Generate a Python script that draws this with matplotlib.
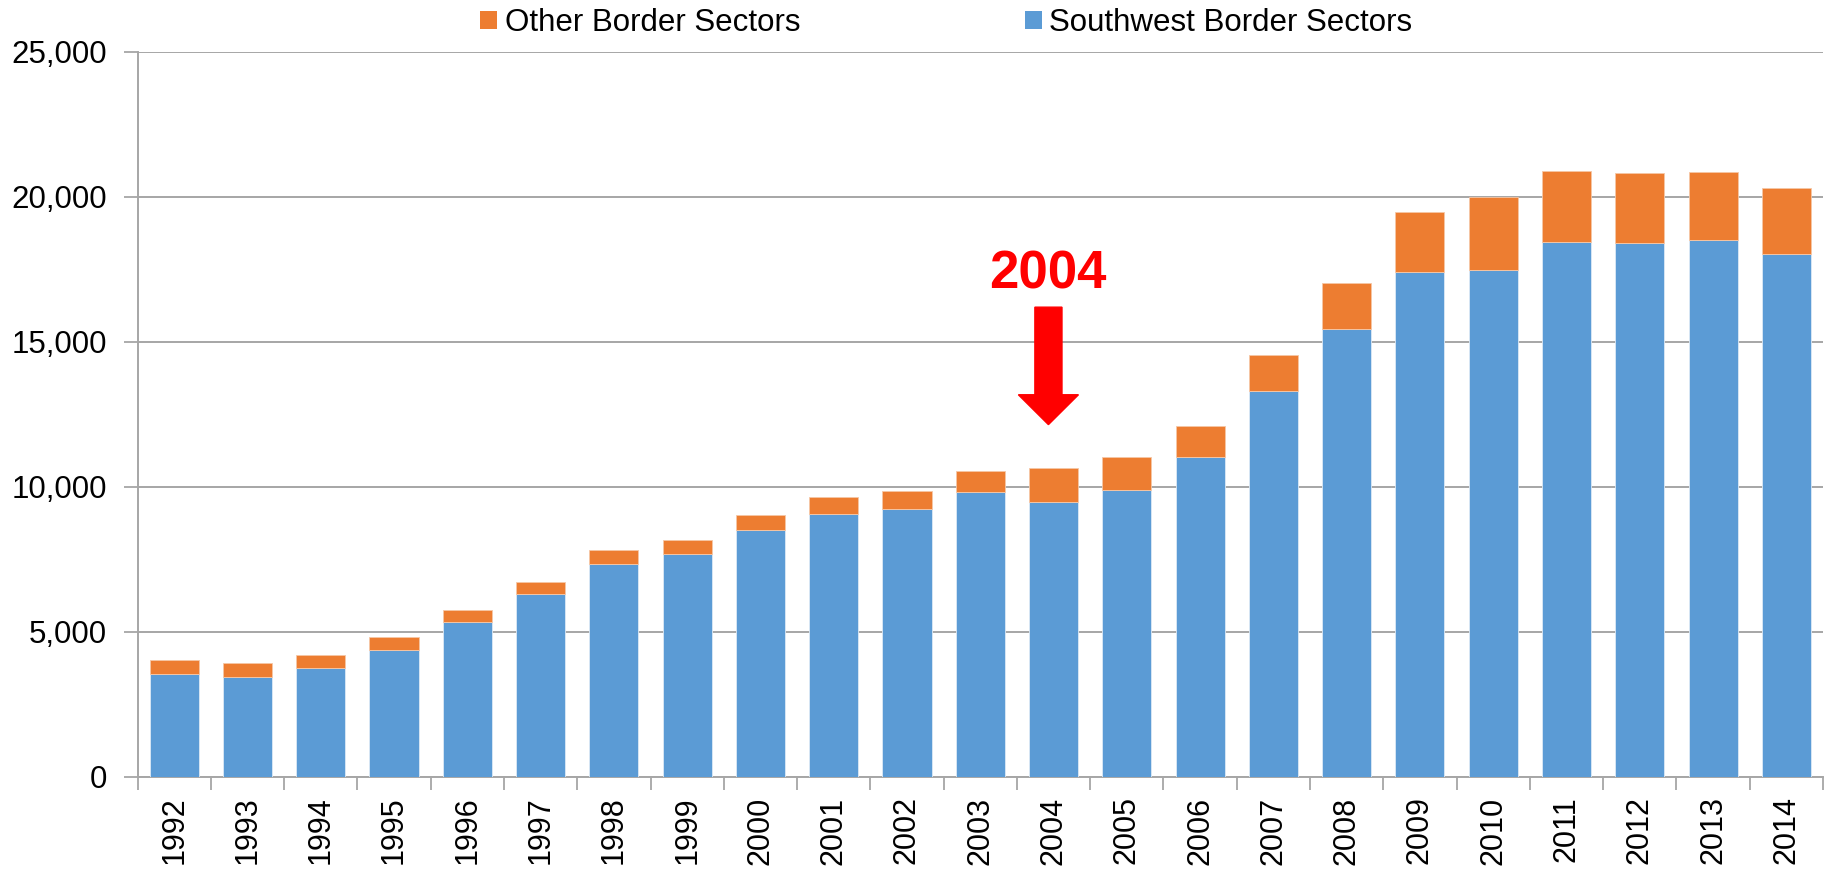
import matplotlib
matplotlib.use("Agg")
import matplotlib.pyplot as plt
from matplotlib.patches import Patch, FancyArrow
import numpy as np

years = [str(y) for y in range(1992, 2015)]
southwest = [3556, 3452, 3749, 4381, 5330, 6307, 7339, 7693, 8524, 9085, 9242,
             9838, 9494, 9896, 11032, 13303, 15436, 17398, 17477, 18440, 18406,
             18499, 18017]
total = [4048, 3921, 4209, 4828, 5767, 6720, 7820, 8180, 9044, 9646, 9872,
         10550, 10640, 11042, 12098, 14552, 17019, 19497, 19989, 20894, 20825,
         20860, 20322]
other = [t - s for t, s in zip(total, southwest)]
yticks = [0, 5000, 10000, 15000, 20000, 25000]
highlight_year = "2004"

BLUE = "#5B9BD5"
ORANGE = "#ED7D31"
GRID = "#A6A6A6"

plt.rcParams['font.family'] = ['Liberation Sans', 'DejaVu Sans']

fig = plt.figure(figsize=(18.27, 8.69), dpi=100)
ax = fig.add_axes([0.0753, 0.1059, 0.9225, 0.8343])

x = np.arange(len(years))
ax.bar(x, southwest, width=0.67, color=BLUE, edgecolor="#DCE9F5", linewidth=0.6, zorder=3)
ax.bar(x, other, bottom=southwest, width=0.67, color=ORANGE, edgecolor="#F6C7A6",
       linewidth=0.6, zorder=3)

ax.set_xlim(-0.5, len(years) - 0.5)
ax.set_ylim(0, 25000)
ax.set_yticks(yticks)
ax.set_yticklabels([f"{v:,}" for v in yticks], fontsize=22.5)
ax.yaxis.grid(True, color=GRID, linewidth=1.4, zorder=0)
ax.set_axisbelow(True)

ax.set_xticks(x)
ax.set_xticklabels(years, rotation=90, fontsize=22)
ax.set_xticks(np.arange(-0.5, len(years), 1.0), minor=True)
ax.tick_params(axis='x', which='major', length=0, pad=14)
ax.tick_params(axis='x', which='minor', length=9, width=1.3, color=GRID)
ax.tick_params(axis='y', length=10, width=1.3, color=GRID, pad=12)

for s in ['top', 'right']:
    ax.spines[s].set_visible(False)
for s in ['left', 'bottom']:
    ax.spines[s].set_color(GRID)
    ax.spines[s].set_linewidth(1.4)

# Annotation for 2004
hi = years.index(highlight_year)
ax.text(hi - 0.08, 16850, highlight_year, color="#FF0000", fontsize=38,
        fontweight='bold', ha='center', va='baseline', zorder=5)
arrow = FancyArrow(hi - 0.07, 16200, 0, -4050, width=0.37, head_width=0.82,
                   head_length=1030, length_includes_head=True,
                   color="#FF0000", zorder=5)
ax.add_patch(arrow)

handles = [Patch(facecolor=ORANGE, edgecolor='none', label='Other Border Sectors'),
           Patch(facecolor=BLUE, edgecolor='none', label='Southwest Border Sectors')]
fig.legend(handles=handles, ncol=2, loc='center', bbox_to_anchor=(0.518, 0.9735),
           frameon=False, fontsize=22.5, handlelength=0.55, handleheight=0.55,
           handletextpad=0.23, columnspacing=7.2, borderpad=0)

fig.savefig("out.png", dpi=100)
